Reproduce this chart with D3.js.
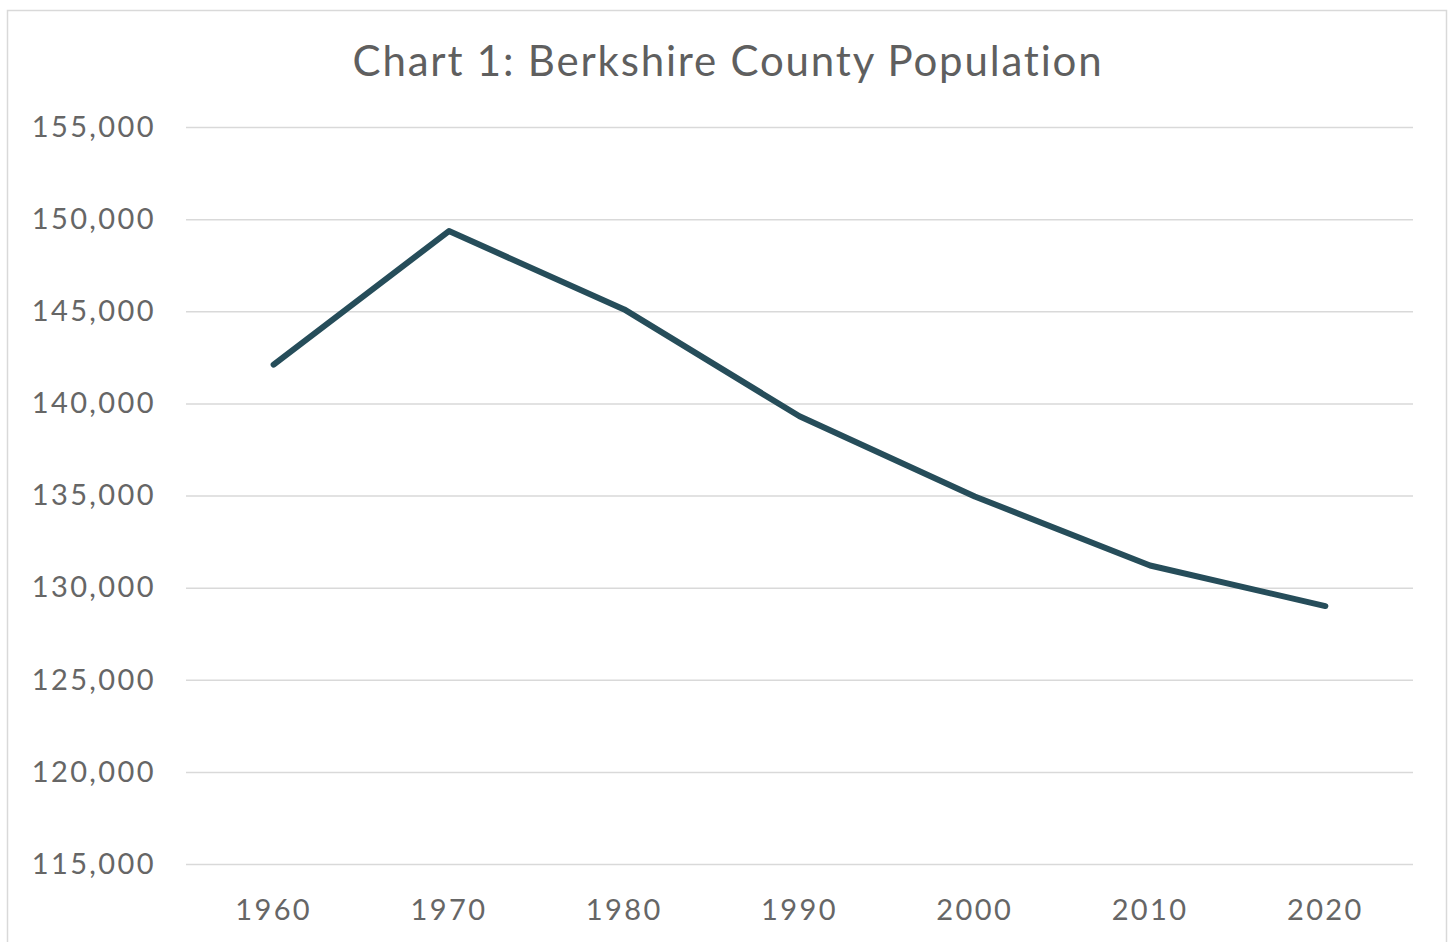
<!DOCTYPE html>
<html lang="en">
<head>
    <meta charset="UTF-8">
    <title>Berkshire County Population</title>
    <script src="https://cdn.jsdelivr.net/npm/d3@7/dist/d3.min.js"></script>
    <style>
        body { margin: 0; background: #fff; }
        text { font-family: Lato, "Open Sans", sans-serif; }
    </style>
</head>
<body>
<svg width="1454" height="942" id="main"></svg>
<script>
    // census years and population
    let years = ["1960", "1970", "1980", "1990", "2000", "2010", "2020"];
    let population = [142100, 149350, 145100, 139300, 134950, 131200, 129000];
    let yTicks = [115000, 120000, 125000, 130000, 135000, 140000, 145000, 150000, 155000];

    let margin = {top: 127, right: 41, bottom: 78, left: 186};
    let width = 1454, height = 942;

    let svg = d3.select('#main');

    // outer frame
    svg.append("rect")
        .attr("x", 7.5).attr("y", 10.5)
        .attr("width", 1439).attr("height", 940)
        .attr("fill", "#fff")
        .attr("stroke", "#d9d9d9")
        .attr("stroke-width", 1.5);

    svg.append("text")
        .attr("x", 728).attr("y", 76)
        .attr("text-anchor", "middle")
        .attr("font-size", 42)
        .attr("letter-spacing", 1.8)
        .attr("fill", "#5f5f5f")
        .text("Chart 1: Berkshire County Population");

    let x = d3.scaleBand()
        .domain(years)
        .range([margin.left, width - margin.right]);

    let y = d3.scaleLinear()
        .domain([115000, 155000])
        .range([height - margin.bottom, margin.top]);

    // gridlines + y labels
    svg.append("g")
        .attr("transform", `translate(${margin.left},0)`)
        .call(d3.axisLeft(y).tickValues(yTicks)
            .tickSize(-(width - margin.left - margin.right))
            .tickPadding(30)
            .tickFormat(d3.format(",")))
        .call(g => g.select(".domain").remove())
        .call(g => g.selectAll(".tick line").attr("stroke", "#d9d9d9").attr("stroke-width", 1.5))
        .call(g => g.selectAll(".tick text")
            .attr("font-size", 29)
            .attr("letter-spacing", 2.4)
            .attr("fill", "#666"));

    svg.append("g")
        .attr("transform", `translate(0,${height - margin.bottom})`)
        .call(d3.axisBottom(x).tickSize(0).tickPadding(35))
        .call(g => g.select(".domain").remove())
        .call(g => g.selectAll(".tick text")
            .attr("font-size", 29)
            .attr("letter-spacing", 2.4)
            .attr("fill", "#666"));

    let line = d3.line()
        .x((d, i) => x(years[i]) + x.bandwidth() / 2)
        .y(d => y(d));

    svg.append("path")
        .datum(population)
        .attr("fill", "none")
        .attr("stroke", "#264d5a")
        .attr("stroke-width", 6)
        .attr("stroke-linejoin", "round")
        .attr("stroke-linecap", "round")
        .attr("d", line);
</script>
</body>
</html>
